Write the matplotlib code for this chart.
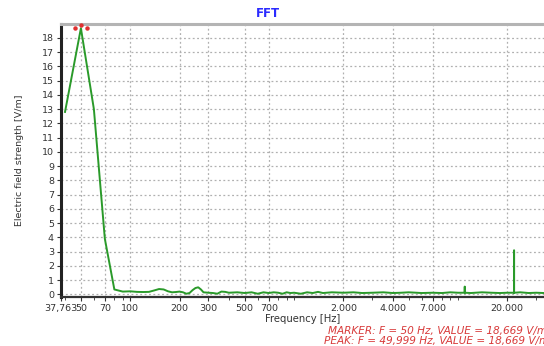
import numpy as np
import matplotlib.pyplot as plt
import matplotlib.ticker as mticker
import matplotlib.transforms as mtransforms

# spectrum (Hz, V/m)
freq = [40, 50, 60, 70, 80, 90, 100, 110, 120, 130, 140, 150, 160, 170, 180,
        190, 200, 210, 220, 230, 240, 250, 260, 270, 280, 300, 320, 340, 360,
        380, 400, 450, 500, 550, 600, 650, 700, 750, 800, 850, 900, 950, 1000,
        1100, 1200, 1300, 1400, 1500, 1700, 2000, 2300, 2600, 3000, 3500, 4000,
        4500, 5000, 6000, 7000, 8000, 9000, 10000, 10990, 11000, 11010, 12000,
        14000, 16000, 18000, 20000, 21990, 22000, 22010, 24000, 27000, 30000, 33500]
field = [12.8, 18.669, 13.0, 3.9, 0.35, 0.2, 0.22, 0.18, 0.17, 0.18, 0.28, 0.38, 0.35, 0.22, 0.15,
         0.17, 0.2, 0.15, 0.05, 0.1, 0.3, 0.45, 0.5, 0.35, 0.15, 0.12, 0.1, 0.05, 0.2,
         0.18, 0.12, 0.15, 0.1, 0.15, 0.05, 0.15, 0.1, 0.15, 0.12, 0.05, 0.15, 0.1, 0.12,
         0.05, 0.15, 0.1, 0.18, 0.1, 0.15, 0.12, 0.15, 0.1, 0.12, 0.15, 0.1,
         0.12, 0.15, 0.1, 0.12, 0.1, 0.15, 0.12, 0.12, 0.55, 0.12, 0.1,
         0.15, 0.12, 0.1, 0.12, 0.12, 3.1, 0.12, 0.15, 0.1, 0.12, 0.1]

xticks = [37.763, 50, 70, 100, 200, 300, 500, 700, 2000, 4000, 7000, 20000]
xticklabels = ["37,763", "50", "70", "100", "200", "300", "500", "700",
               "2.000", "4.000", "7.000", "20.000"]
yticks = list(range(0, 19))

marker_f = 50
marker_v = 18.669

fig = plt.figure(figsize=(5.44, 3.46), dpi=100)
ax = fig.add_axes([0.112, 0.142, 0.888, 0.788])

ax.plot(freq, field, color="#2a9a2a", lw=1.4, zorder=3)

ax.set_xscale("log")
ax.set_xlim(37.763, 33500)
ax.set_ylim(-0.17, 18.95)

ax.set_xticks(xticks)
ax.set_xticklabels(xticklabels)
ax.xaxis.set_minor_locator(mticker.LogLocator(base=10, subs=np.arange(1, 10), numticks=20))
ax.xaxis.set_minor_formatter(mticker.NullFormatter())
ax.set_yticks(yticks)

ax.tick_params(axis="both", labelsize=6.8, colors="#333333", length=3, width=0.8)
ax.tick_params(axis="x", which="minor", length=2, width=0.6, colors="#333333")
ax.tick_params(axis="x", pad=2)
ax.tick_params(axis="y", pad=2)

ax.grid(True, which="major", color="#b0b0b0", linestyle=(0, (1.5, 2)), lw=0.9)
ax.grid(False, which="minor")

ax.spines["left"].set_linewidth(2.2)
ax.spines["left"].set_color("#222222")
ax.spines["bottom"].set_linewidth(1.6)
ax.spines["bottom"].set_color("#333333")
ax.spines["top"].set_linewidth(2.2)
ax.spines["top"].set_color("#b4b4b4")
ax.spines["right"].set_visible(False)

# red marker dots around the peak
tr = ax.transData
for dx, dy in [(0, 3.2), (-6.3, 0), (6.3, 0)]:
    t = mtransforms.offset_copy(tr, fig=fig, x=dx, y=dy, units="dots")
    ax.plot([marker_f], [marker_v], "o", color="#e03030", ms=2.2,
            transform=t, clip_on=False, zorder=4)

ax.set_xlabel("Frequency [Hz]", fontsize=7.2, color="#333333", labelpad=1)
ax.set_ylabel("Electric field strength [V/m]", fontsize=6.8, color="#333333", labelpad=13)

fig.text(0.493, 0.962, "FFT", color="#2b2bff", fontsize=8.5, fontweight="bold",
         ha="center", va="center")

fig.text(0.603, 0.043, "MARKER: F = 50 Hz, VALUE = 18,669 V/m", color="#d83a3a",
         fontsize=7.6, style="italic", ha="left", va="center")
fig.text(0.596, 0.015, "PEAK: F = 49,999 Hz, VALUE = 18,669 V/m", color="#d83a3a",
         fontsize=7.6, style="italic", ha="left", va="center")

plt.savefig("out.png", dpi=100)
